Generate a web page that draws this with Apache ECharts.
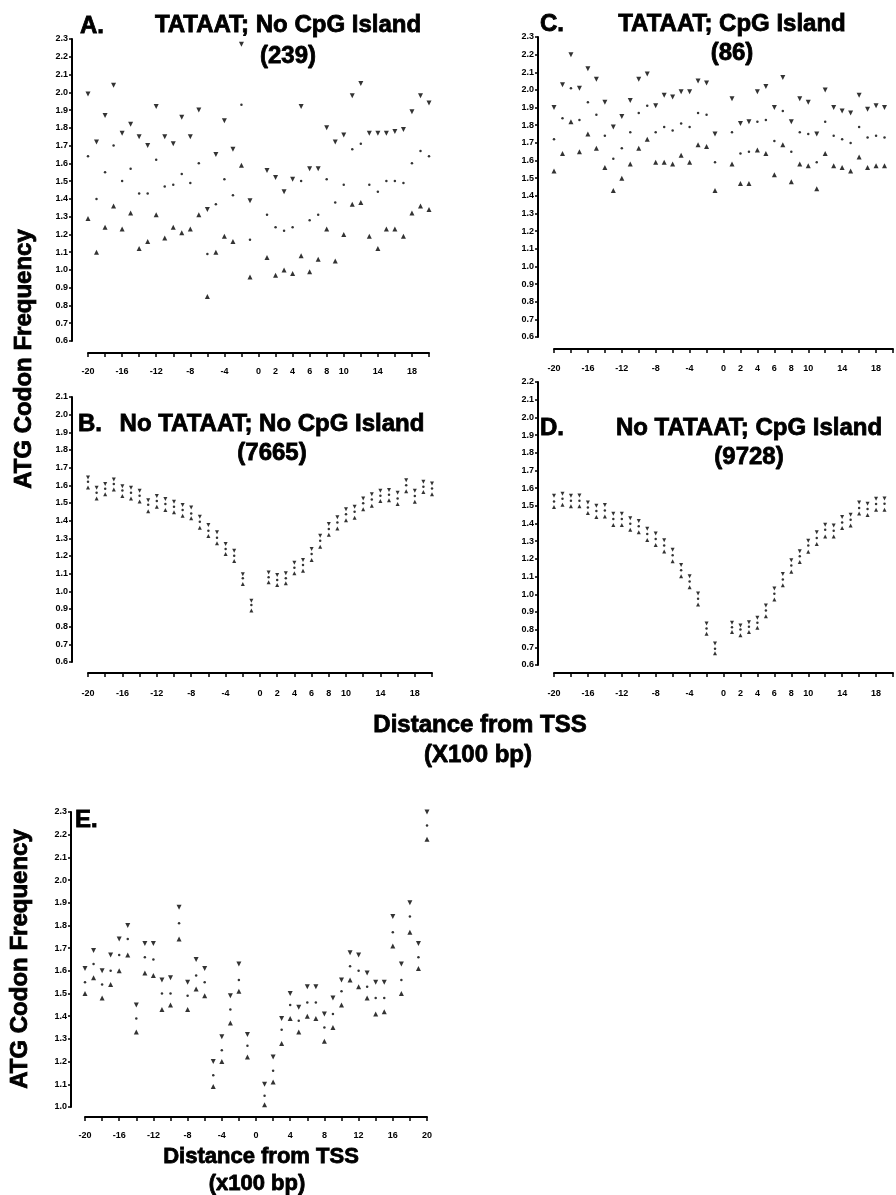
<!DOCTYPE html>
<html>
<head>
<meta charset="utf-8">
<script src="https://cdn.jsdelivr.net/npm/echarts@6/dist/echarts.min.js"></script>
<style>
  html, body { margin: 0; padding: 0; background: #fff; }
  #chart { width: 896px; height: 1195px; }
</style>
</head>
<body>
<div id="chart"></div>
<script>
// distance from TSS (x100 bp), bins used in every panel
var distance = [-20, -19, -18, -17, -16, -15, -14, -13, -12, -11, -10, -9, -8, -7, -6, -5, -4, -3, -2, -1,
                1, 2, 3, 4, 5, 6, 7, 8, 9, 10, 11, 12, 13, 14, 15, 16, 17, 18, 19, 20];
var xLabelsAD = [-20, -16, -12, -8, -4, 0, 2, 4, 6, 8, 10, 14, 18];
var xLabelsE = [-20, -16, -12, -8, -4, 0, 4, 8, 12, 16, 20];

// A. TATAAT; No CpG Island (239)
var aHi = [1.99, 1.72, 1.87, 2.04, 1.77, 1.82, 1.75, 1.70, 1.92, 1.75, 1.71, 1.86, 1.75, 1.90, 1.34, 1.65, 1.84, 1.68, 2.27, 1.39,
           1.56, 1.52, 1.44, 1.51, 1.92, 1.57, 1.57, 1.80, 1.72, 1.76, 1.98, 2.05, 1.77, 1.77, 1.77, 1.78, 1.79, 1.89, 1.98, 1.94];
var aMid = [1.64, 1.40, 1.55, 1.70, 1.50, 1.57, 1.43, 1.43, 1.62, 1.47, 1.48, 1.54, 1.49, 1.60, 1.09, 1.37, 1.51, 1.42, 1.93, 1.17,
            1.31, 1.24, 1.22, 1.24, 1.50, 1.28, 1.31, 1.51, 1.38, 1.48, 1.68, 1.71, 1.48, 1.44, 1.50, 1.50, 1.49, 1.60, 1.67, 1.64];
var aLo = [1.29, 1.10, 1.24, 1.36, 1.23, 1.32, 1.12, 1.16, 1.31, 1.18, 1.24, 1.21, 1.23, 1.31, 0.85, 1.10, 1.19, 1.16, 1.59, 0.96,
           1.07, 0.97, 1.00, 0.98, 1.08, 0.99, 1.06, 1.23, 1.05, 1.20, 1.37, 1.38, 1.19, 1.12, 1.23, 1.23, 1.19, 1.32, 1.36, 1.34];

// B. No TATAAT; No CpG Island (7665)
var bHi = [1.645, 1.586, 1.607, 1.633, 1.595, 1.586, 1.569, 1.516, 1.539, 1.522, 1.507, 1.488, 1.475, 1.422, 1.375, 1.334, 1.268, 1.230, 1.097, 0.946,
           1.106, 1.093, 1.102, 1.162, 1.177, 1.240, 1.315, 1.381, 1.419, 1.464, 1.479, 1.526, 1.549, 1.569, 1.573, 1.558, 1.629, 1.569, 1.620, 1.611];
var bMid = [1.620, 1.558, 1.580, 1.607, 1.571, 1.558, 1.541, 1.490, 1.512, 1.494, 1.479, 1.460, 1.441, 1.394, 1.343, 1.303, 1.240, 1.202, 1.074, 0.922,
            1.080, 1.064, 1.074, 1.134, 1.149, 1.211, 1.286, 1.353, 1.390, 1.436, 1.450, 1.498, 1.520, 1.541, 1.546, 1.526, 1.601, 1.539, 1.592, 1.582];
var bLo = [1.588, 1.526, 1.550, 1.577, 1.539, 1.526, 1.509, 1.454, 1.479, 1.460, 1.447, 1.428, 1.413, 1.360, 1.313, 1.272, 1.211, 1.172, 1.042, 0.891,
           1.051, 1.036, 1.046, 1.102, 1.117, 1.177, 1.253, 1.320, 1.356, 1.403, 1.416, 1.464, 1.484, 1.511, 1.516, 1.494, 1.567, 1.507, 1.562, 1.550];

// C. TATAAT; CpG Island (86)  -- last bin is cut off at the right edge
var cHi = [1.90, 2.03, 2.20, 2.01, 2.12, 2.06, 1.93, 1.79, 1.85, 1.94, 2.06, 2.09, 1.91, 1.97, 1.96, 1.99, 1.99, 2.05, 2.04, 1.75,
           1.95, 1.81, 1.82, 1.99, 2.02, 1.90, 2.07, 1.82, 1.95, 1.93, 1.75, 2.00, 1.90, 1.88, 1.87, 1.97, 1.89, 1.91, 1.90];
var cMid = [1.72, 1.84, 2.01, 1.83, 1.93, 1.86, 1.74, 1.61, 1.67, 1.76, 1.87, 1.91, 1.76, 1.79, 1.77, 1.81, 1.79, 1.87, 1.86, 1.59,
            1.76, 1.64, 1.65, 1.82, 1.83, 1.71, 1.88, 1.65, 1.76, 1.75, 1.59, 1.82, 1.74, 1.72, 1.70, 1.79, 1.73, 1.74, 1.73];
var cLo = [1.54, 1.64, 1.82, 1.65, 1.75, 1.67, 1.56, 1.43, 1.50, 1.58, 1.67, 1.72, 1.59, 1.59, 1.58, 1.63, 1.59, 1.69, 1.68, 1.43,
           1.58, 1.47, 1.47, 1.66, 1.64, 1.52, 1.69, 1.48, 1.58, 1.57, 1.44, 1.64, 1.57, 1.56, 1.54, 1.62, 1.56, 1.57, 1.57];

// D. No TATAAT; CpG Island (9728)  -- last bin is cut off at the right edge
var dHi = [1.557, 1.568, 1.557, 1.559, 1.519, 1.500, 1.504, 1.455, 1.455, 1.429, 1.414, 1.371, 1.343, 1.305, 1.251, 1.166, 1.102, 1.004, 0.835, 0.722,
           0.839, 0.824, 0.842, 0.867, 0.937, 1.032, 1.115, 1.192, 1.243, 1.303, 1.350, 1.393, 1.388, 1.437, 1.449, 1.519, 1.512, 1.540, 1.542];
var dMid = [1.525, 1.540, 1.529, 1.529, 1.491, 1.470, 1.474, 1.425, 1.425, 1.399, 1.384, 1.341, 1.313, 1.275, 1.220, 1.136, 1.072, 0.974, 0.807, 0.692,
            0.814, 0.801, 0.816, 0.839, 0.908, 1.003, 1.083, 1.162, 1.215, 1.275, 1.318, 1.364, 1.359, 1.406, 1.421, 1.488, 1.482, 1.510, 1.512];
var dLo = [1.493, 1.506, 1.497, 1.497, 1.459, 1.437, 1.440, 1.392, 1.392, 1.365, 1.350, 1.307, 1.279, 1.241, 1.186, 1.102, 1.040, 0.942, 0.777, 0.666,
           0.786, 0.768, 0.786, 0.811, 0.876, 0.970, 1.051, 1.127, 1.183, 1.240, 1.284, 1.327, 1.327, 1.375, 1.388, 1.456, 1.448, 1.478, 1.478];

// E.
var eHi = [1.61, 1.69, 1.60, 1.67, 1.74, 1.80, 1.45, 1.72, 1.72, 1.56, 1.57, 1.88, 1.55, 1.65, 1.61, 1.20, 1.31, 1.49, 1.63, 1.32,
           1.10, 1.22, 1.39, 1.50, 1.44, 1.53, 1.53, 1.41, 1.48, 1.56, 1.68, 1.67, 1.59, 1.55, 1.55, 1.84, 1.63, 1.90, 1.72, 2.30];
var eMid = [1.55, 1.63, 1.54, 1.60, 1.67, 1.74, 1.39, 1.66, 1.65, 1.50, 1.50, 1.81, 1.49, 1.58, 1.55, 1.14, 1.25, 1.43, 1.56, 1.27,
            1.05, 1.16, 1.34, 1.45, 1.38, 1.46, 1.46, 1.35, 1.41, 1.51, 1.62, 1.60, 1.53, 1.48, 1.48, 1.77, 1.56, 1.84, 1.66, 2.24];
var eLo = [1.50, 1.57, 1.48, 1.54, 1.60, 1.67, 1.33, 1.59, 1.58, 1.43, 1.45, 1.74, 1.43, 1.52, 1.49, 1.09, 1.20, 1.37, 1.51, 1.22,
           1.01, 1.11, 1.28, 1.39, 1.33, 1.40, 1.39, 1.29, 1.35, 1.45, 1.56, 1.53, 1.48, 1.41, 1.42, 1.71, 1.50, 1.77, 1.61, 2.18];

var FONT = '"Liberation Sans", Arial, sans-serif';

var panels = [
    { grid: { left: 88, top: 39, width: 341, height: 302 }, yMin: 0.6, yMax: 2.3, yOff: 16, xOff: 12, xMargin: 14, labels: xLabelsAD, hi: aHi, mid: aMid, lo: aLo, tri: 5 },
    { grid: { left: 88, top: 397, width: 344, height: 265 }, yMin: 0.6, yMax: 2.1, yOff: 16, xOff: 11, xMargin: 16, labels: xLabelsAD, hi: bHi, mid: bMid, lo: bLo, tri: 4 },
    { grid: { left: 554, top: 37, width: 349, height: 300 }, yMin: 0.6, yMax: 2.3, yOff: 16, xOff: 12, xMargin: 15, labels: xLabelsAD, hi: cHi, mid: cMid, lo: cLo, tri: 5 },
    { grid: { left: 554, top: 382, width: 348, height: 283 }, yMin: 0.6, yMax: 2.2, yOff: 16, xOff: 8, xMargin: 16, labels: xLabelsAD, hi: dHi, mid: dMid, lo: dLo, tri: 4 },
    { grid: { left: 85, top: 812, width: 342, height: 295 }, yMin: 1.0, yMax: 2.3, yOff: 14, xOff: 10, xMargin: 14, labels: xLabelsE, hi: eHi, mid: eMid, lo: eLo, tri: 5 }
];

function pairs(vals) {
    return vals.map(function (v, i) { return [distance[i], v]; });
}

var grids = [], xAxes = [], yAxes = [], series = [];
panels.forEach(function (p, i) {
    grids.push(p.grid);
    xAxes.push({
        type: 'value', gridIndex: i, min: -20, max: 20, interval: 2,
        offset: p.xOff,
        axisLine: { onZero: false, lineStyle: { color: '#000', width: 2 } },
        axisTick: { length: 4, lineStyle: { color: '#000', width: 1.5 } },
        axisLabel: {
            color: '#000', fontSize: 9, fontWeight: 'bold', fontFamily: FONT, margin: p.xMargin,
            showMinLabel: true, showMaxLabel: true,
            formatter: function (v) { return p.labels.indexOf(Math.round(v)) >= 0 ? String(Math.round(v)) : ''; }
        },
        splitLine: { show: false }
    });
    yAxes.push({
        type: 'value', gridIndex: i, min: p.yMin, max: p.yMax, interval: 0.1,
        offset: p.yOff,
        axisLine: { show: true, onZero: false, lineStyle: { color: '#000', width: 2 } },
        axisTick: { show: true, length: 3, lineStyle: { color: '#000', width: 1.5 } },
        axisLabel: {
            color: '#000', fontSize: 9, fontWeight: 'bold', fontFamily: FONT, margin: 4,
            formatter: function (v) { return v.toFixed(1); }
        },
        splitLine: { show: false }
    });
    series.push(
        { type: 'scatter', xAxisIndex: i, yAxisIndex: i, symbol: 'triangle', symbolRotate: 180, symbolSize: p.tri,
          itemStyle: { color: '#000' }, data: pairs(p.hi) },
        { type: 'scatter', xAxisIndex: i, yAxisIndex: i, symbol: 'circle', symbolSize: 2.5,
          itemStyle: { color: '#000' }, data: pairs(p.mid) },
        { type: 'scatter', xAxisIndex: i, yAxisIndex: i, symbol: 'triangle', symbolSize: p.tri,
          itemStyle: { color: '#000' }, data: pairs(p.lo) }
    );
});

// heavy scanned lettering: bold face plus a thin outline
function txt(s, x, y, size, align, rot) {
    return {
        type: 'text', x: x, y: y, rotation: rot || 0, z: 100,
        style: { text: s, font: 'bold ' + size + 'px ' + FONT, fill: '#000',
                 stroke: '#000', lineWidth: 0.8,
                 textAlign: align || 'center', textVerticalAlign: 'middle' }
    };
}

var graphics = [
    txt('A.', 80, 26, 24, 'left'),
    txt('TATAAT; No CpG Island', 288, 25, 24),
    txt('(239)', 288, 56, 24),
    txt('C.', 540, 24, 24, 'left'),
    txt('TATAAT; CpG Island', 732, 24, 24),
    txt('(86)', 732, 53, 24),
    txt('B.', 78, 424, 24, 'left'),
    txt('No TATAAT; No CpG Island', 272, 424, 24),
    txt('(7665)', 272, 453, 24),
    txt('D.', 540, 428, 24, 'left'),
    txt('No TATAAT; CpG Island', 749, 428, 24),
    txt('(9728)', 749, 457, 24),
    txt('E.', 75, 820, 24, 'left'),
    txt('ATG Codon Frequency', 24, 359, 24, 'center', Math.PI / 2),
    txt('ATG Codon Frequency', 20, 959, 24, 'center', Math.PI / 2),
    txt('Distance from TSS', 480, 725, 24),
    txt('(X100 bp)', 478, 755, 24),
    txt('Distance from TSS', 261, 1157, 22),
    txt('(x100 bp)', 257, 1184, 22)
];

var myChart = echarts.init(document.getElementById('chart'));
var option = {
    animation: false,
    backgroundColor: '#fff',
    grid: grids,
    xAxis: xAxes,
    yAxis: yAxes,
    series: series,
    graphic: graphics
};
option && myChart.setOption(option);
</script>
</body>
</html>
